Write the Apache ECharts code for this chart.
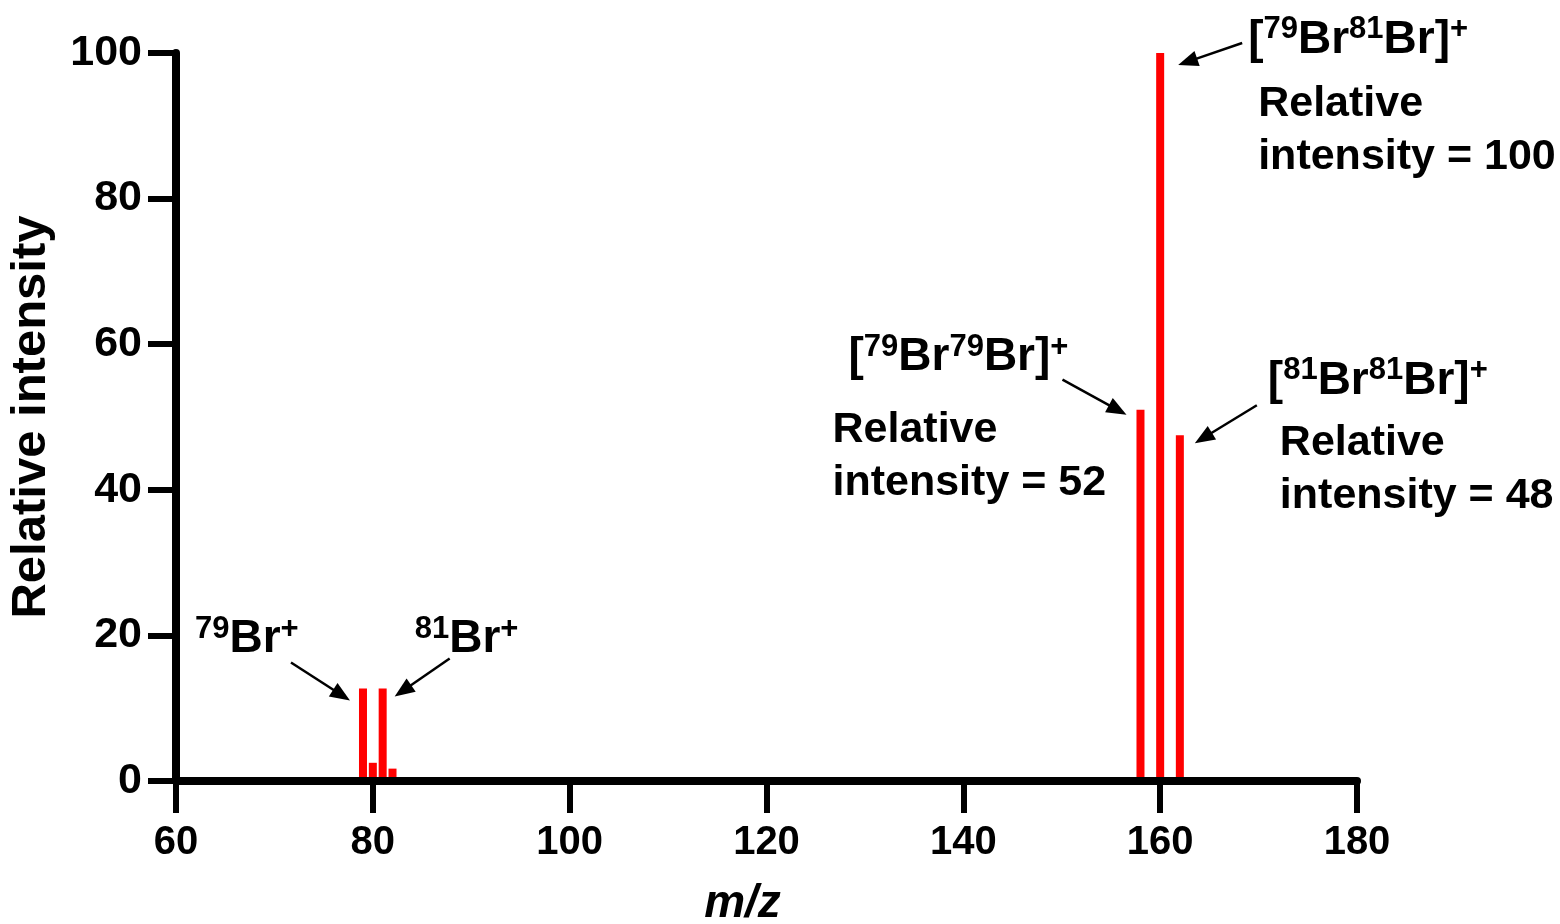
<!DOCTYPE html>
<html><head><meta charset="utf-8">
<script src="https://cdn.jsdelivr.net/npm/echarts@6/dist/echarts.min.js"></script>
<style>html,body{margin:0;padding:0;background:#fff;overflow:hidden}#c{width:1560px;height:924px}</style>
</head><body><div id="c"></div>
<script>
// ---- data ----
const mzValues = [79, 80, 81, 82, 158, 160, 162];
const relIntensity = [12.7, 2.5, 12.7, 1.7, 51, 100, 47.5];
const xTickMin = 60, xTickMax = 180, xTickStep = 20;
const yTickMin = 0, yTickMax = 100, yTickStep = 20;
const xAxisTitle = 'm/z';
const yAxisTitle = 'Relative intensity';
const peakTitles = [
  '{s|79}{b|Br}{s|+}',
  '{s|81}{b|Br}{s|+}',
  '{b|[}{s|79}{b|Br}{s|79}{b|Br]}{s|+}',
  '{b|[}{s|79}{b|Br}{s|81}{b|Br]}{s|+}',
  '{b|[}{s|81}{b|Br}{s|81}{b|Br]}{s|+}'
];
const peakOfTitle = [0, 2, 4, 5, 6];
const labelledIntensity = [null, null, 52, 100, 48];

// ---- layout of annotations (pixel offsets from the top of each labelled peak) ----
const annoLayout = [
  {title:[-168,-49], arrow:[[-72,-26],[-13,12]]},
  {title:[32,-49],   arrow:[[67,-30],[12,8]]},
  {title:[-292,-52], sub:[-308,47], arrow:[[-78,-30],[-14,5]]},
  {title:[88,-13],   sub:[98,78],   arrow:[[82,-10],[18,12]]},
  {title:[88,-54],   sub:[100,34],  arrow:[[77,-30],[15,8]]}
];

const FONT = "'Liberation Sans', Arial, Helvetica, sans-serif";
const chart = echarts.init(document.getElementById('c'), null, {renderer:'canvas', width:1560, height:924});

const option = {
  animation: false,
  backgroundColor: '#fff',
  grid: {left: 176, top: 53, width: 1181, height: 728, containLabel: false, outerBoundsMode: 'none'},
  xAxis: {
    type: 'value', min: xTickMin, max: xTickMax, interval: xTickStep, z: 5,
    axisLine: {show: true, onZero: false, lineStyle: {color: '#000', width: 8}},
    axisTick: {show: true, length: 32, lineStyle: {color: '#000', width: 6}},
    axisLabel: {color: '#000', fontSize: 40, fontWeight: 'bold', fontFamily: FONT, margin: 42},
    splitLine: {show: false},
    name: xAxisTitle, nameLocation: 'middle', nameGap: 100,
    nameTextStyle: {color: '#000', fontSize: 46, fontWeight: 'bold', fontStyle: 'italic', fontFamily: FONT, padding: [0, 48, 0, 0]}
  },
  yAxis: {
    type: 'value', min: yTickMin, max: yTickMax, interval: yTickStep, z: 5,
    axisLine: {show: true, lineStyle: {color: '#000', width: 8}},
    axisTick: {show: true, length: 28, lineStyle: {color: '#000', width: 6}},
    axisLabel: {color: '#000', fontSize: 43, fontWeight: 'bold', fontFamily: FONT, margin: 34},
    splitLine: {show: false},
    name: yAxisTitle, nameLocation: 'middle', nameGap: 120,
    nameTextStyle: {color: '#000', fontSize: 49, fontWeight: 'bold', fontFamily: FONT}
  },
  series: [{
    type: 'bar', z: 2, barWidth: 8,
    itemStyle: {color: '#ff0000'},
    data: mzValues.map((m, i) => [m, relIntensity[i]])
  }]
};
chart.setOption(option);

function arrowEls(t, h) {
  const dx = h[0]-t[0], dy = h[1]-t[1];
  const len = Math.hypot(dx, dy), ux = dx/len, uy = dy/len;
  const hl = 20, hw = 8;
  const bx = h[0]-ux*hl, by = h[1]-uy*hl;
  const nx = -uy, ny = ux;
  return [
    {type:'line', shape:{x1:t[0], y1:t[1], x2:bx+ux*2, y2:by+uy*2}, style:{stroke:'#000', lineWidth:2.5}, z:10},
    {type:'polygon', shape:{points:[[h[0],h[1]],[bx+nx*hw,by+ny*hw],[bx-nx*hw,by-ny*hw]]}, style:{fill:'#000'}, z:10}
  ];
}

const rich = {
  b: {fontSize: 46, fontWeight: 'bold', fontFamily: FONT, color: '#000', lineHeight: 52},
  s: {fontSize: 31, fontWeight: 'bold', fontFamily: FONT, color: '#000', verticalAlign: 'top', lineHeight: 52}
};

const graphics = [];
peakTitles.forEach((title, k) => {
  const idx = peakOfTitle[k];
  const p = chart.convertToPixel({seriesIndex: 0}, [mzValues[idx], relIntensity[idx]]);
  const L = annoLayout[k];
  graphics.push({type:'text', x:p[0]+L.title[0], y:p[1]+L.title[1], z:10,
    style:{text:title, rich:rich, align:'left', verticalAlign:'middle'}});
  if (labelledIntensity[k] !== null) {
    graphics.push({type:'text', x:p[0]+L.sub[0], y:p[1]+L.sub[1], z:10,
      style:{text:'Relative\nintensity = ' + labelledIntensity[k], fill:'#000',
        fontSize:43, fontWeight:'bold', fontFamily:FONT, lineHeight:53, align:'left', verticalAlign:'middle'}});
  }
  const t = [p[0]+L.arrow[0][0], p[1]+L.arrow[0][1]];
  const h = [p[0]+L.arrow[1][0], p[1]+L.arrow[1][1]];
  arrowEls(t, h).forEach(e => graphics.push(e));
});
chart.setOption({graphic: graphics});
</script>
</body></html>
